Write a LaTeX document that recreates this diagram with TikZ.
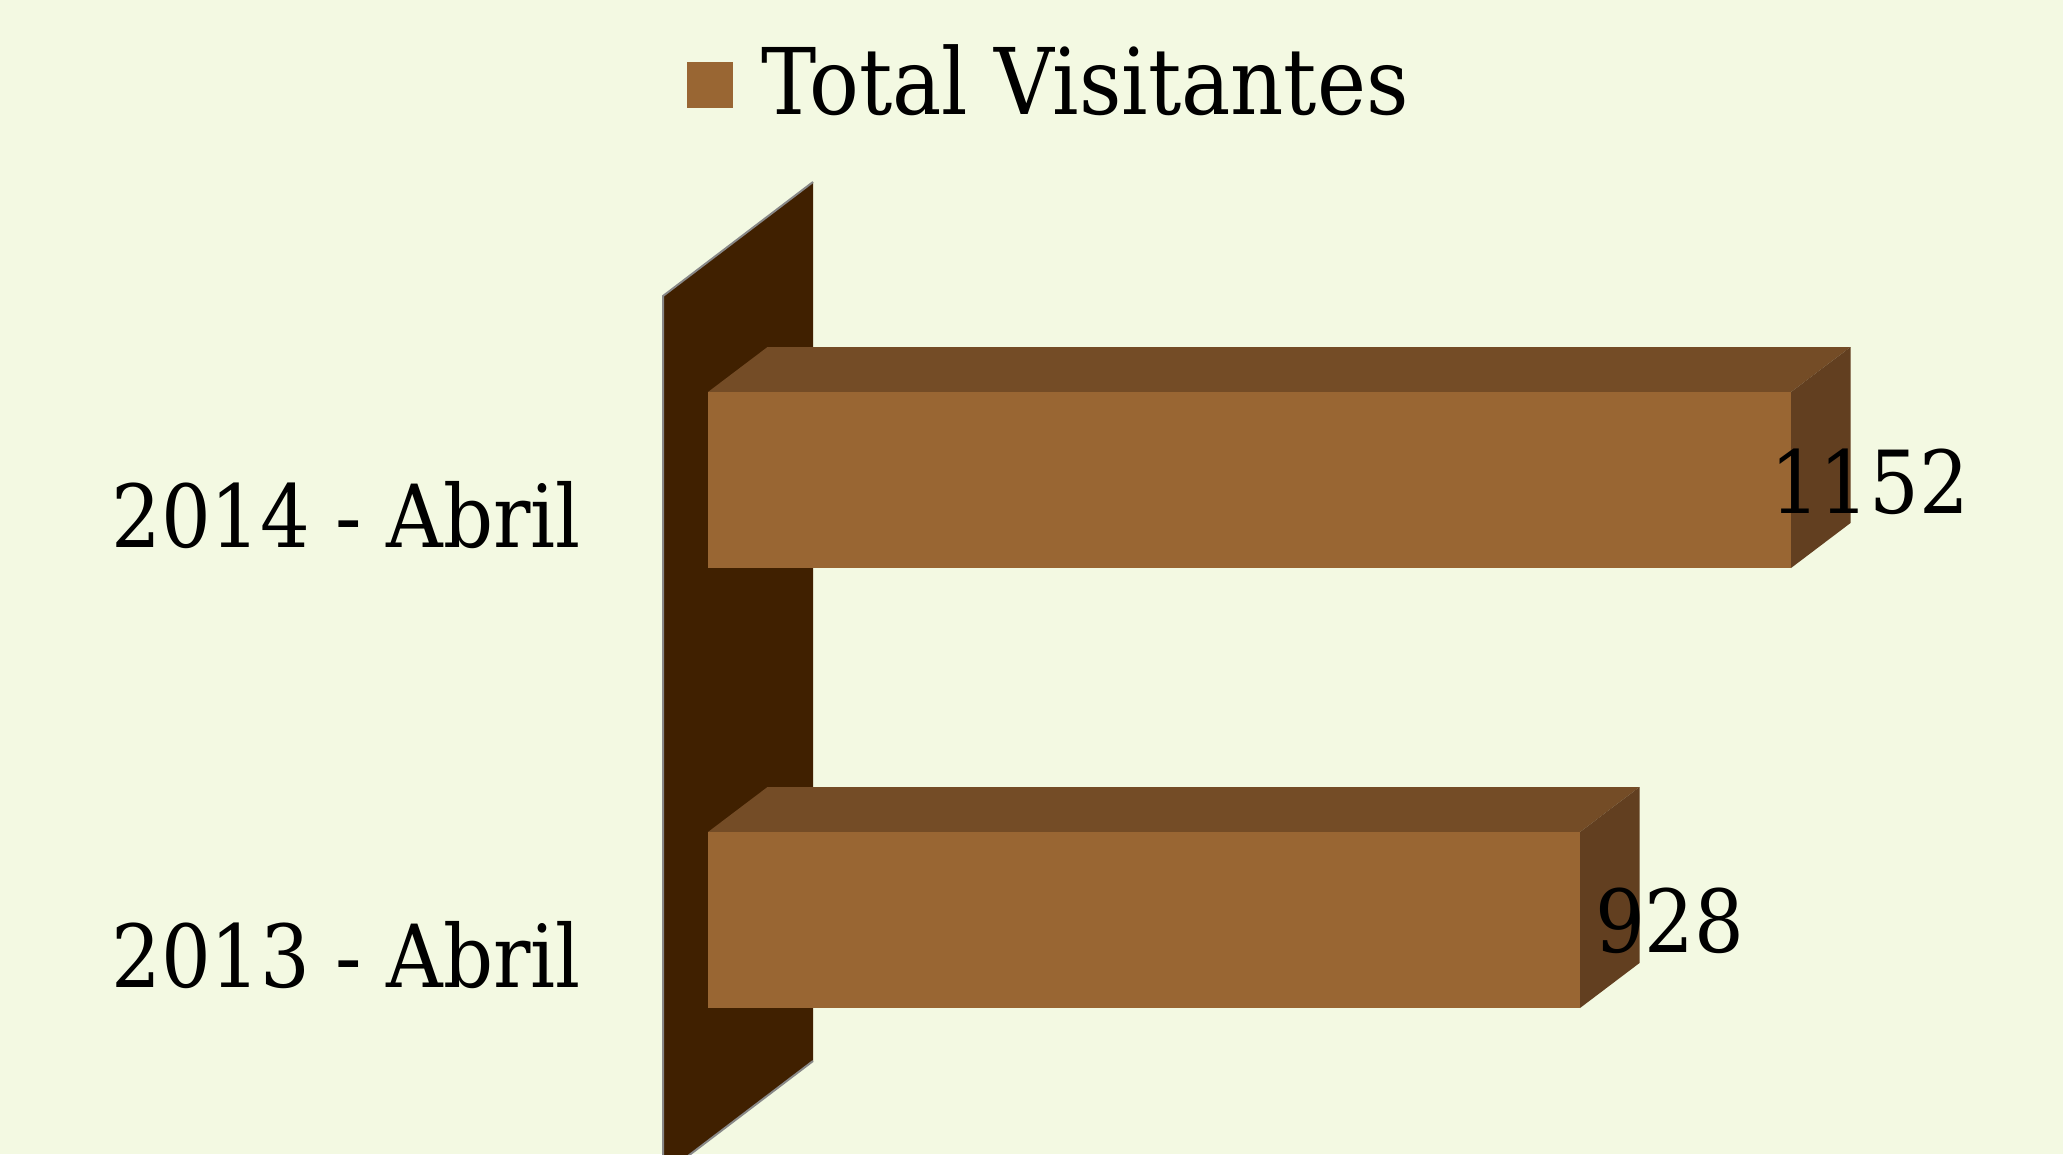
\documentclass[tikz,border=0pt]{standalone}
\usepackage{fontspec}
\setmainfont{DejaVu Serif Condensed}
\definecolor{chartbg}{HTML}{F3F9E2}
\definecolor{barfront}{HTML}{996633}
\definecolor{bartop}{HTML}{744C26}
\definecolor{barside}{HTML}{623F20}
\definecolor{wallfill}{HTML}{402000}
\definecolor{wallline}{HTML}{888888}
\begin{document}
\begin{tikzpicture}[x=1pt,y=-1pt,
  lbl/.style={inner sep=0pt,font=\fontsize{87}{100}\selectfont}]
\useasboundingbox (0,0) rectangle (2063,1154);
\fill[chartbg] (0,0) rectangle (2063,1154);
\begin{scope}
\clip (0,0) rectangle (2063,1154);
\fill[wallfill] (663,296) -- (813,182) -- (813,1061) -- (663,1175) -- cycle;
\draw[wallline,line width=2pt] (663,1175) -- (663,296) -- (813,182);
\draw[wallline,line width=2pt] (813,1061) -- (663,1175);
\end{scope}
\foreach \y/\x in {392/1791,832/1580} {
\fill[bartop] (708,\y) -- (767.5,\y-45) -- (\x+59.5,\y-45) -- (\x,\y) -- cycle;
\fill[barside] (\x,\y) -- (\x+59.5,\y-45) -- (\x+59.5,\y+131) -- (\x,\y+176) -- cycle;
\fill[barfront] (708,\y) rectangle (\x,\y+176);
}
\node[lbl,anchor=base east] (cat14) at (581,547) {2014 - Abril};
\node[lbl,anchor=base east] (cat13) at (581,987) {2013 - Abril};
\node[lbl,anchor=base west] (val14) at (1770,513) {1152};
\node[lbl,anchor=base west] (val13) at (1595,952) {928};
\fill[barfront] (687,62) rectangle (733,108);
\node[lbl,anchor=base west,font=\fontsize{92}{100}\selectfont] (legend) at (761,114) {Total Visitantes};
\end{tikzpicture}
\end{document}
